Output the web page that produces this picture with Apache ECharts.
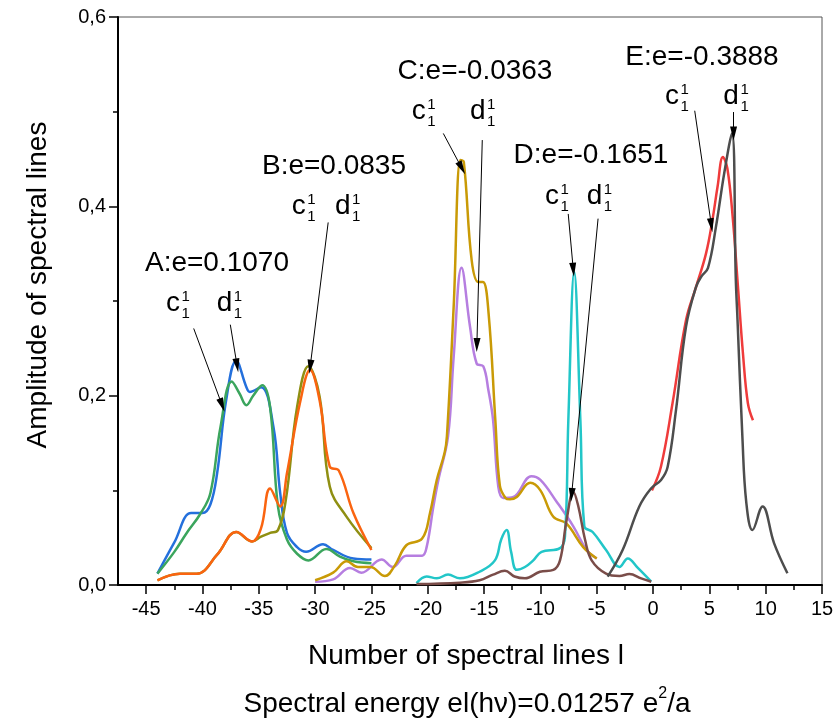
<!DOCTYPE html>
<html><head><meta charset="utf-8">
<script src="https://cdn.jsdelivr.net/npm/echarts@6/dist/echarts.min.js"></script>
<style>html,body{margin:0;padding:0;background:#fff}#c{width:837px;height:722px}</style>
</head><body><div id="c"></div>
<script>
// ---- data ----
const xMajorTicks = [-45,-40,-35,-30,-25,-20,-15,-10,-5,0,5,10,15];
const xMinorTicks = [-42.5,-37.5,-32.5,-27.5,-22.5,-17.5,-12.5,-7.5,-2.5,2.5,7.5,12.5];

const A_c_x = [-44,-42.5,-41.4,-40.2,-39.3,-38.4,-37.4,-36.7,-36.1,-35.5,-34.7,-34.0,-33.3,-32.5,-31.6,-30.6,-29.0,-27.8,-26.6,-25];
const A_c_y = [0.012,0.035,0.055,0.075,0.097,0.167,0.215,0.202,0.190,0.200,0.211,0.188,0.083,0.048,0.033,0.026,0.038,0.030,0.025,0.023];
const A_d_x = [-44,-42.5,-41,-40,-39.3,-38.7,-37.9,-37.0,-36.1,-35.8,-34.8,-33.7,-33.1,-32.5,-31.6,-30.8,-29.3,-28.4,-26.6,-25];
const A_d_y = [0.012,0.045,0.076,0.076,0.085,0.118,0.195,0.237,0.209,0.204,0.209,0.167,0.097,0.055,0.040,0.035,0.043,0.037,0.028,0.027];

const B_c_x = [-44,-42,-40.5,-38.7,-37.0,-35.6,-34.8,-34.0,-33.3,-32.6,-31.6,-30.6,-29.6,-28.7,-27.2,-25];
const B_c_y = [0.005,0.012,0.012,0.032,0.056,0.046,0.051,0.055,0.058,0.090,0.188,0.231,0.199,0.104,0.072,0.039];
const B_d_x = [-44,-42,-40.5,-38.7,-37.0,-35.6,-34.8,-34.0,-33.1,-32.5,-31.3,-30.45,-29.6,-28.7,-27.9,-26.6,-25];
const B_d_y = [0.005,0.012,0.012,0.032,0.056,0.046,0.060,0.102,0.083,0.118,0.195,0.227,0.195,0.125,0.121,0.076,0.037];

const C_c_x = [-30,-28.4,-27.2,-26.2,-25.1,-23.8,-22.9,-21.9,-20.5,-19.8,-19.2,-18.5,-18.3,-17.7,-17.1,-16.8,-16.1,-15.5,-15.1,-14.6,-14.0,-13.6,-13.1,-12.7,-12.1,-10.9,-10.0,-8.85,-7.7,-6.2,-5];
const C_c_y = [0.005,0.013,0.025,0.019,0.019,0.0095,0.021,0.042,0.049,0.076,0.111,0.14,0.157,0.294,0.449,0.447,0.343,0.320,0.320,0.287,0.174,0.105,0.092,0.0905,0.093,0.108,0.100,0.072,0.065,0.040,0.028];
const C_d_x = [-30,-28.4,-26.9,-25.9,-24.1,-23.1,-21.9,-20.5,-20.1,-19.5,-19.06,-18.2,-17.7,-17.0,-16.25,-15.66,-15.07,-14.62,-14.2,-13.74,-13.3,-12.4,-10.8,-10.0,-8.56,-7.08,-5.9,-5];
const C_d_y = [0.0035,0.006,0.018,0.013,0.027,0.019,0.031,0.031,0.040,0.083,0.111,0.157,0.241,0.335,0.273,0.234,0.231,0.206,0.174,0.104,0.092,0.093,0.115,0.111,0.088,0.062,0.037,0.028];

const D_c_x = [-21,-20.1,-19.2,-18.2,-17.15,-15.4,-14.04,-13.48,-13.0,-12.6,-12.1,-11.37,-10.63,-9.9,-8.26,-7.82,-7.52,-7.0,-6.45,-6.1,-5.36,-4.17,-2.98,-2.24,-1.35,-0.16];
const D_c_y = [0.002,0.009,0.007,0.011,0.007,0.014,0.026,0.048,0.058,0.035,0.016,0.019,0.026,0.035,0.039,0.051,0.174,0.331,0.174,0.062,0.056,0.037,0.019,0.028,0.018,0.0035];
const D_d_x = [-21,-17.15,-15.4,-14.2,-13.15,-12.3,-11.37,-10.04,-8.85,-8.26,-7.67,-7.08,-6.63,-6.04,-5.45,-4.17,-2.98,-2.1,-1.06,-0.16];
const D_d_y = [0.001,0.0025,0.005,0.011,0.015,0.009,0.007,0.014,0.016,0.026,0.069,0.0986,0.083,0.048,0.026,0.012,0.0095,0.0116,0.007,0.0035];

const E_c_x = [-0.1,0.7,1.73,2.93,3.82,4.7,5.28,5.73,6.2,6.6,7.09,7.54,7.98,8.42,8.87];
const E_c_y = [0.100,0.125,0.192,0.280,0.315,0.350,0.386,0.421,0.452,0.440,0.386,0.315,0.245,0.192,0.174];
const E_d_x = [-4.03,-2.7,-1.22,-0.18,0.71,1.3,2.04,2.93,3.82,4.3,4.88,5.58,6.32,7.0,7.35,7.5,7.93,8.28,8.83,9.72,10.75,11.93];
const E_d_y = [0.0088,0.037,0.083,0.102,0.111,0.125,0.185,0.273,0.315,0.326,0.335,0.378,0.435,0.477,0.322,0.28,0.157,0.087,0.058,0.083,0.044,0.0124];

const groupLabels = ['A:e=0.1070','B:e=0.0835','C:e=-0.0363','D:e=-0.1651','E:e=-0.3888'];
// arrows in data coordinates [x1,y1,x2,y2]
const arrowsA = [[-40.78,0.271,-38.26,0.190],[-37.53,0.275,-36.93,0.232]];
const arrowsB = [[-28.84,0.383,-30.44,0.2306]];
const arrowsC = [[-18.62,0.477,-16.98,0.4404],[-15.16,0.470,-15.64,0.2535]];
const arrowsD = [[-7.53,0.392,-7.08,0.333],[-4.88,0.387,-7.23,0.0951]];
const arrowsE = [[3.70,0.501,5.18,0.38],[7.15,0.4996,7.15,0.477]];

// ---- build ----
const FONT = 'Liberation Sans, Arial, sans-serif';
const chart = echarts.init(document.getElementById('c'));
function pairs(xs, ys){ return xs.map((x,i)=>[x, ys[i]]); }
function arrowML(list){
  return {
    silent: true, symbol: ['none','triangle'], symbolSize: [7,14],
    lineStyle: {color:'#000', width:1, type:'solid'}, label:{show:false},
    emphasis:{disabled:true},
    data: list.map(a=>[{coord:[a[0],a[1]]},{coord:[a[2],a[3]]}])
  };
}
function ser(xs, ys, color, ml){
  const s = {type:'line', data: pairs(xs,ys), showSymbol:false, smooth:0.4,
    lineStyle:{color, width:2.5}, itemStyle:{color}, animation:false, silent:true, z:2};
  if (ml) s.markLine = arrowML(ml);
  return s;
}
const series = [
  ser(A_d_x, A_d_y, '#2470dc'),
  ser(A_c_x, A_c_y, '#3ba55d', arrowsA),
  ser(B_c_x, B_c_y, '#8f8f12'),
  ser(B_d_x, B_d_y, '#fa6410', arrowsB),
  ser(C_d_x, C_d_y, '#b67ee0'),
  ser(C_c_x, C_c_y, '#c99a06', arrowsC),
  ser(D_c_x, D_c_y, '#22c6c8'),
  ser(D_d_x, D_d_y, '#7a4d49', arrowsD),
  ser(E_c_x, E_c_y, '#ef3b3b'),
  ser(E_d_x, E_d_y, '#4d4d4d', arrowsE)
];

function txt(x, y, text, size, align, rot){
  return {type:'text', x, y, rotation: rot||0, z:10, silent:true,
    style:{text, font: size+'px '+FONT, fill:'#000', textAlign: align||'left', align: align||'left',
      textVerticalAlign:'middle', verticalAlign:'middle'}};
}
function cd(letter, left, base){
  const w = letter==='c' ? 14 : 15.6;
  return [txt(left, base-9, letter, 28, 'left'),
          txt(left+w+1.5, base-15, '1', 15, 'left'),
          txt(left+w+1.5, base+2, '1', 15, 'left')];
}
const graphics = [
  txt(217,263,groupLabels[0],28,'center'),
  txt(334,166,groupLabels[1],28,'center'),
  txt(475,71,groupLabels[2],28,'center'),
  txt(591,155,groupLabels[3],28,'center'),
  txt(702,57,groupLabels[4],28,'center'),
  ...cd('c',166,312), ...cd('d',216.7,312),
  ...cd('c',291.7,215), ...cd('d',335,215),
  ...cd('c',411.7,120), ...cd('d',470,120),
  ...cd('c',545,205), ...cd('d',586.7,205),
  ...cd('c',665,105), ...cd('d',723.3,105),
  txt(38,285,'Amplitude of spectral lines',28,'center',Math.PI/2),
  txt(466,656,'Number of spectral lines l',28,'center'),
  {type:'text', x:467, y:702, z:10, silent:true,
   style:{text:'{a|Spectral energy el(hν)=0.01257 e}{s|2}{a|/a}', textAlign:'center', align:'center',
     textVerticalAlign:'middle', verticalAlign:'middle',
     rich:{a:{fontSize:28, fontFamily:FONT, color:'#000', lineHeight:32, verticalAlign:'bottom'},
           s:{fontSize:16, fontFamily:FONT, color:'#000', lineHeight:32, verticalAlign:'top'}}}}
];

const axisLabelStyle = {color:'#000', fontSize:20, fontFamily:FONT};
chart.setOption({
  animation:false,
  grid:{left:118, right:15, top:17, bottom:137, show:true, borderColor:'#555', borderWidth:1, containLabel:false},
  xAxis:[
    {type:'value', min:-47.5, max:15, position:'bottom',
     axisLine:{show:true, onZero:false, lineStyle:{color:'#000', width:2}},
     axisTick:{show:true, customValues: xMajorTicks, length:9, lineStyle:{color:'#000', width:1.5}},
     axisLabel:{show:true, customValues: xMajorTicks, margin:14, ...axisLabelStyle},
     splitLine:{show:false}},
    {type:'value', min:-47.5, max:15, position:'bottom', gridIndex:0,
     axisLine:{show:false, onZero:false}, axisLabel:{show:false}, splitLine:{show:false},
     axisTick:{show:true, customValues: xMinorTicks, length:5, lineStyle:{color:'#000', width:1.5}}}
  ],
  yAxis:{type:'value', min:0, max:0.6, interval:0.2, position:'left',
    axisLine:{show:true, onZero:false, lineStyle:{color:'#000', width:2}},
    axisTick:{show:true, length:9, lineStyle:{color:'#000', width:1.5}},
    minorTick:{show:true, splitNumber:2, length:5, lineStyle:{color:'#000', width:1.5}},
    axisLabel:{margin:12, formatter: v => v.toFixed(1).replace('.',','), ...axisLabelStyle},
    splitLine:{show:false}},
  series,
  graphic: graphics
});
</script></body></html>
